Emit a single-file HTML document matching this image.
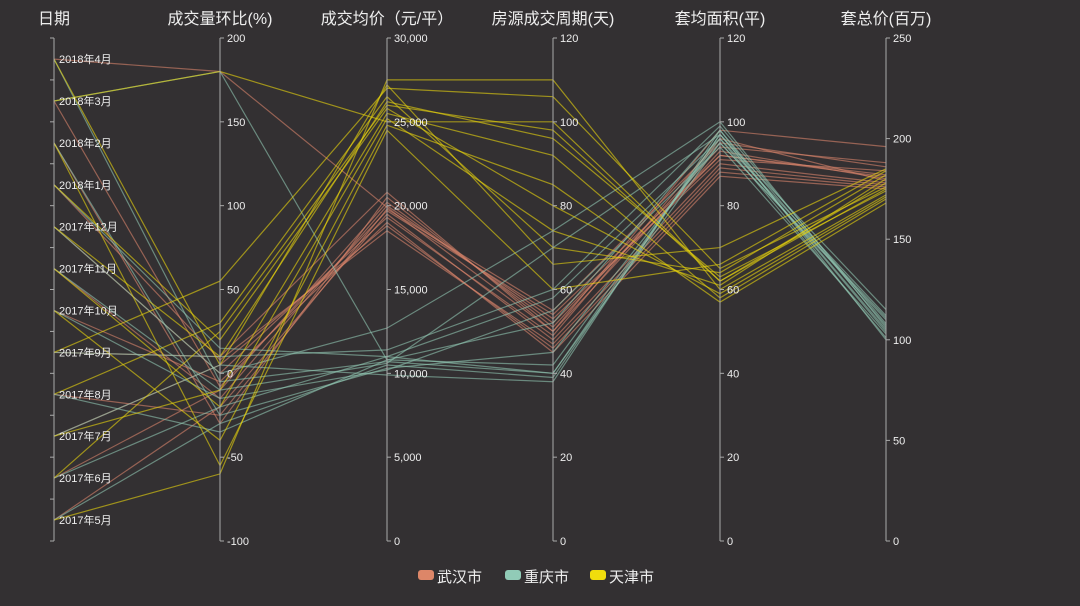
<!DOCTYPE html>
<html><head><meta charset="utf-8"><style>
html,body{margin:0;padding:0;background:#333032;width:1080px;height:606px;overflow:hidden}
svg{display:block;font-family:"Liberation Sans","Noto Sans CJK SC",sans-serif}
</style></head><body>
<svg id="c" width="1080" height="606" xmlns="http://www.w3.org/2000/svg"></svg>
<script>
const s=document.getElementById('c');let h='';
const X=[54,220,387,553,720,886],T=38,B=541,H=503;
const names=['日期','成交量环比(%)','成交均价（元/平）','房源成交周期(天)','套均面积(平)','套总价(百万)'];
const months=['2017年5月','2017年6月','2017年7月','2017年8月','2017年9月','2017年10月','2017年11月','2017年12月','2018年1月','2018年2月','2018年3月','2018年4月'];
const yD=i=>520-i*41.9;
const sc=[null,v=>B-(v+100)/300*H,v=>B-v/30000*H,v=>B-v/120*H,v=>B-v/120*H,v=>B-v/250*H];
const data={
wh:{c:'#d9846a',vol:[-20,-10,5,-25,10,-5,-15,0,8,-30,-8,180],pr:[19500,20200,18800,19800,20800,19000,20000,19300,18500,20500,19700,19900],pd:[48,52,46,55,50,45,53,49,47,51,54,50],ar:[90,92,88,95,93,87,91,96,89,94,92,98],tt:[178,182,176,186,180,175,184,179,177,188,181,196]},
cq:{c:'#8fc4b0',vol:[-30,-20,5,-35,10,-15,-10,0,15,-25,180,-5],pr:[10500,11000,9900,10800,11400,10200,10600,12700,11000,10300,10800,10700],pd:[39,40,38,42,60,55,70,74,58,45,52,40],ar:[97,95,98,96,99,94,97,100,96,95,98,97],tt:[105,110,100,112,108,103,115,106,101,111,107,104]},
tj:{c:'#e8d40e',vol:[-60,25,-10,30,55,-40,-20,10,20,-55,180,5],pr:[27500,26000,25500,26500,27000,24800,25200,26200,25800,24500,25000,27200],pd:[110,98,92,70,106,85,74,96,80,60,100,66],ar:[60,62,58,64,65,57,61,63,59,66,62,70],tt:[172,178,170,182,176,168,180,174,171,184,175,185]}};
for(const k in data){const d=data[k];for(let i=0;i<12;i++){
const ys=[yD(i),sc[1](d.vol[i]),sc[2](d.pr[i]),sc[3](d.pd[i]),sc[4](d.ar[i]),sc[5](d.tt[i])];
h+=`<polyline fill="none" stroke="${d.c}" stroke-opacity="0.6" stroke-width="1.2" points="${ys.map((y,j)=>X[j]+','+y.toFixed(1)).join(' ')}"/>`;}}
X.forEach((x,j)=>{h+=`<line x1="${x}" y1="${T}" x2="${x}" y2="${B}" stroke="#aaa" stroke-width="1"/>`;
h+=`<text x="${x}" y="24" fill="#eee" font-size="16" text-anchor="middle">${names[j]}</text>`;});
for(let i=0;i<12;i++){h+=`<text x="59" y="${yD(i)+4}" fill="#eee" font-size="11">${months[i]}</text>`;}
for(let i=0;i<=12;i++){const y=T+i*H/12;h+=`<line x1="54" x2="50" y1="${y}" y2="${y}" stroke="#aaa"/>`;}
const ticks=[[-100,-50,0,50,100,150,200],[0,5000,10000,15000,20000,25000,30000],[0,20,40,60,80,100,120],[0,20,40,60,80,100,120],[0,50,100,150,200,250]];
ticks.forEach((a,j)=>{a.forEach(v=>{const y=sc[j+1](v);const x=X[j+1];
h+=`<line x1="${x}" x2="${x+4}" y1="${y}" y2="${y}" stroke="#aaa"/>`;
h+=`<text x="${x+7}" y="${y+4}" fill="#eee" font-size="11">${j==1?v.toLocaleString('en-US'):v}</text>`;});});
[['#dd8668','武汉市',418],['#91cbb7','重庆市',505],['#f0dd0d','天津市',590]].forEach(([c,t,x])=>{
h+=`<rect x="${x}" y="570" width="16" height="10" rx="3" fill="${c}"/><text x="${x+19}" y="582" fill="#eee" font-size="15">${t}</text>`;});
s.innerHTML=h;
</script>
</body></html>
